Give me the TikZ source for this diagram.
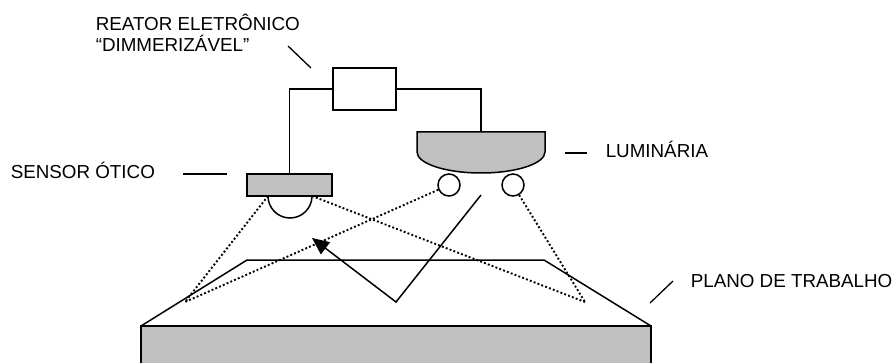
\documentclass[tikz,border=0pt]{standalone}
\usepackage{fontspec}
\setmainfont{Liberation Sans}
\usetikzlibrary{arrows.meta}
\definecolor{partgray}{HTML}{C0C0C0}
\begin{document}
\begin{tikzpicture}[x=1pt,y=-1pt,
  line width=1.5pt,
  wire/.style={draw=black},
  part/.style={draw=black,fill=partgray},
  box/.style={draw=black,fill=white,rectangle,inner sep=0pt},
  lamp/.style={draw=black,fill=white,circle,inner sep=0pt,minimum size=22pt},
  ray/.style={draw=black,line width=1.9pt,dash pattern=on 1.9pt off 2.2pt},
  leader/.style={draw=black,line width=1.3pt},
  label/.style={inner sep=0pt,anchor=base west,align=left,
    font=\fontsize{18.8}{21}\selectfont}]
\useasboundingbox (0,0) rectangle (893,363);
\clip (0,0) rectangle (893,363);

% work plane
\coordinate (wpBL) at (141,326);
\coordinate (wpBR) at (651,326);
\coordinate (wpTL) at (247,260);
\coordinate (wpTR) at (544,260);
\path[part] (wpBL) rectangle (651,375);
\draw (wpBL) -- (wpTL) -- (wpTR) -- (wpBR);

% ballast, sensor and luminaire
\node[box,minimum width=63pt,minimum height=42pt] (ballast) at (364.5,89) {};
\node[part,rectangle,inner sep=0pt,minimum width=85pt,minimum height=22pt] (sensor) at (289.5,185) {};
\coordinate (senL) at (268,196);
\coordinate (senR) at (312,196);
\draw (senL) arc (180:0:22);

\coordinate (lumTop) at (481,132);
\path[part] (417,132) -- (545,132) -- (545,152) arc (0:180:64 and 21) -- cycle;
\node[lamp] (lampL) at (449,185) {};
\node[lamp] (lampR) at (513,185) {};

% wiring
\draw[wire] (ballast.west) -| (sensor.north);
\draw[wire] (ballast.east) -| (lumTop);

% light paths
\coordinate (P1) at (185,302);
\coordinate (P2) at (585,302);
\draw[ray] (senL) -- (P1);
\draw[ray] (lampL) -- (P1);
\draw[ray] (senR) -- (P2);
\draw[ray] (lampR) -- (P2);

\coordinate (rayStart) at (481,195);
\coordinate (rayHit) at (396,302);
\coordinate (rayEnd) at (312,238);
\draw[-{Triangle[length=17pt,width=15pt]}] (rayStart) -- (rayHit) -- (rayEnd);

% labels and leaders
\node[label] (lblReator) at (95,52) {REATOR ELETRÔNICO\\“DIMMERIZÁVEL”};
\coordinate (ldR1) at (288,46);
\coordinate (ldR2) at (311,68);
\draw[leader] (ldR1) -- (ldR2);

\node[label] (lblSensor) at (10,179) {SENSOR ÓTICO};
\coordinate (ldS1) at (183,174);
\coordinate (ldS2) at (227,174);
\draw[leader] (ldS1) -- (ldS2);

\node[label] (lblLum) at (605,158) {LUMINÁRIA};
\coordinate (ldL1) at (565,153);
\coordinate (ldL2) at (587,153);
\draw[leader] (ldL1) -- (ldL2);

\node[label] (lblPlano) at (690,287) {PLANO DE TRABALHO};
\coordinate (ldP1) at (650,303);
\coordinate (ldP2) at (673,281);
\draw[leader] (ldP1) -- (ldP2);
\end{tikzpicture}
\end{document}
